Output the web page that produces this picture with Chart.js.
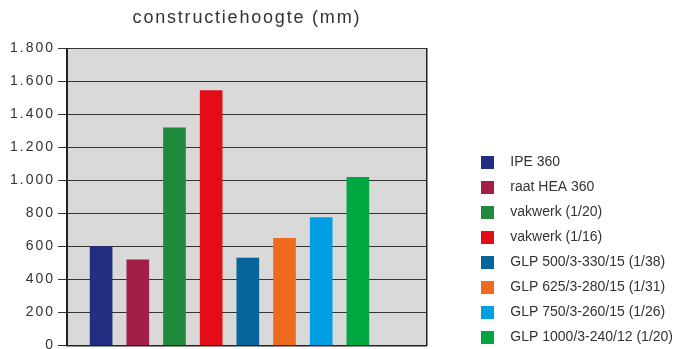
<!DOCTYPE html>
<html>
<head>
<meta charset="utf-8">
<script src="https://cdn.jsdelivr.net/npm/chart.js@4.4.1/dist/chart.umd.min.js"></script>
<style>
  html, body { margin: 0; padding: 0; background: #fff; }
  canvas { display: block; }
</style>
</head>
<body>
<canvas id="chart" width="693" height="349"></canvas>
<script>
// Beam types compared by construction height
const categories = [
  'IPE 360',
  'raat HEA 360',
  'vakwerk (1/20)',
  'vakwerk (1/16)',
  'GLP 500/3-330/15 (1/38)',
  'GLP 625/3-280/15 (1/31)',
  'GLP 750/3-260/15 (1/26)',
  'GLP 1000/3-240/12 (1/20)'
];
// Construction height in mm
const heights = [600, 520, 1320, 1545, 530, 650, 775, 1020];
// Y axis tick labels (Dutch thousands separator)
const yTickLabels = ['0', '200', '400', '600', '800', '1.000', '1.200', '1.400', '1.600', '1.800'];
// Bar colours
const palette = ['#232d82', '#a41f47', '#1f8a3b', '#e30c17', '#05659a', '#ee6a1f', '#009fe3', '#00a63f'];

const FONT = '"Liberation Sans", Arial, Helvetica, sans-serif';
const INK = '#333333';

// Small square swatch used as the legend marker
function swatch(color) {
  const c = document.createElement('canvas');
  c.width = 13; c.height = 13;
  const g = c.getContext('2d');
  g.fillStyle = color;
  g.fillRect(0, 0, 13, 13);
  return c;
}

// Run a method with extra letter spacing on the canvas context
function tracked(obj, name, px) {
  const orig = obj[name];
  obj[name] = function (...args) {
    const ctx = this.ctx;
    const prev = ctx.letterSpacing;
    ctx.letterSpacing = px;
    try { return orig.apply(this, args); } finally { ctx.letterSpacing = prev; }
  };
}

const tweaks = {
  id: 'tweaks',
  afterInit(chart) {
    if (chart.titleBlock) tracked(chart.titleBlock, 'draw', '1.8px');
    // let the side legend take the width its labels need
    const legend = chart.legend;
    if (legend) {
      const upd = legend.update;
      legend.update = function (w, h, m) { return upd.call(this, Math.max(w, 300), h, m); };
    }
  },
  beforeUpdate(chart) {
    const y = chart.scales.y;
    if (y && !y.__tracked) {
      y.__tracked = true;
      tracked(y, 'update', '2px');
      tracked(y, 'drawLabels', '2px');
    }
  }
};

// Grey fill behind the plot area
const plotBackground = {
  id: 'plotBackground',
  beforeDraw(chart) {
    const { ctx, chartArea: a } = chart;
    ctx.save();
    ctx.fillStyle = '#d9d9d9';
    ctx.fillRect(a.left, a.top, a.right - a.left, a.bottom - a.top);
    ctx.restore();
  }
};

new Chart(document.getElementById('chart'), {
  type: 'bar',
  data: {
    datasets: categories.map((name, i) => ({
      label: name,
      data: [{ x: i + 1, y: heights[i] }],
      backgroundColor: palette[i],
      pointStyle: swatch(palette[i]),
      barThickness: 22,
      grouped: false
    }))
  },
  options: {
    responsive: false,
    animation: false,
    devicePixelRatio: 1,
    events: [],
    layout: { padding: { left: 0, right: 10, top: 0, bottom: -6 } },
    scales: {
      x: {
        type: 'linear',
        offset: false,
        min: 0.07,
        max: 9.88,
        ticks: { display: false },
        grid: { display: false, drawTicks: false, tickLength: 0, offset: false },
        border: { display: true, color: '#222', width: 1.5 },
        afterFit(s) { s.height = 0; s.paddingLeft = 0; s.paddingRight = 0; }
      },
      y: {
        min: 0,
        max: 1800,
        ticks: {
          stepSize: 200,
          color: INK,
          padding: 3,
          font: { family: FONT, size: 14 },
          callback: (v, i) => yTickLabels[i]
        },
        grid: { color: '#333', lineWidth: 1, tickLength: 9 },
        border: { color: '#222', width: 2 },
        afterFit(s) { s.width = 67; s.paddingBottom = 3.5; }
      },
      yR: {
        axis: 'y',
        type: 'linear',
        position: 'right',
        ticks: { display: false },
        grid: { display: false, drawTicks: false },
        border: { display: true, color: '#222', width: 1.5 },
        afterFit(s) { s.width = 33.5; }
      }
    },
    plugins: {
      title: {
        display: true,
        text: 'constructiehoogte (mm)',
        fullSize: false,
        color: INK,
        font: { family: FONT, size: 18, weight: 'normal' },
        padding: { top: 7, bottom: 20 }
      },
      legend: {
        position: 'right',
        align: 'end',
        labels: {
          usePointStyle: true,
          pointStyleWidth: 32,
          padding: 11,
          color: INK,
          font: { family: FONT, size: 14 }
        }
      },
      tooltip: { enabled: false }
    }
  },
  plugins: [plotBackground, tweaks]
});
</script>
</body>
</html>
